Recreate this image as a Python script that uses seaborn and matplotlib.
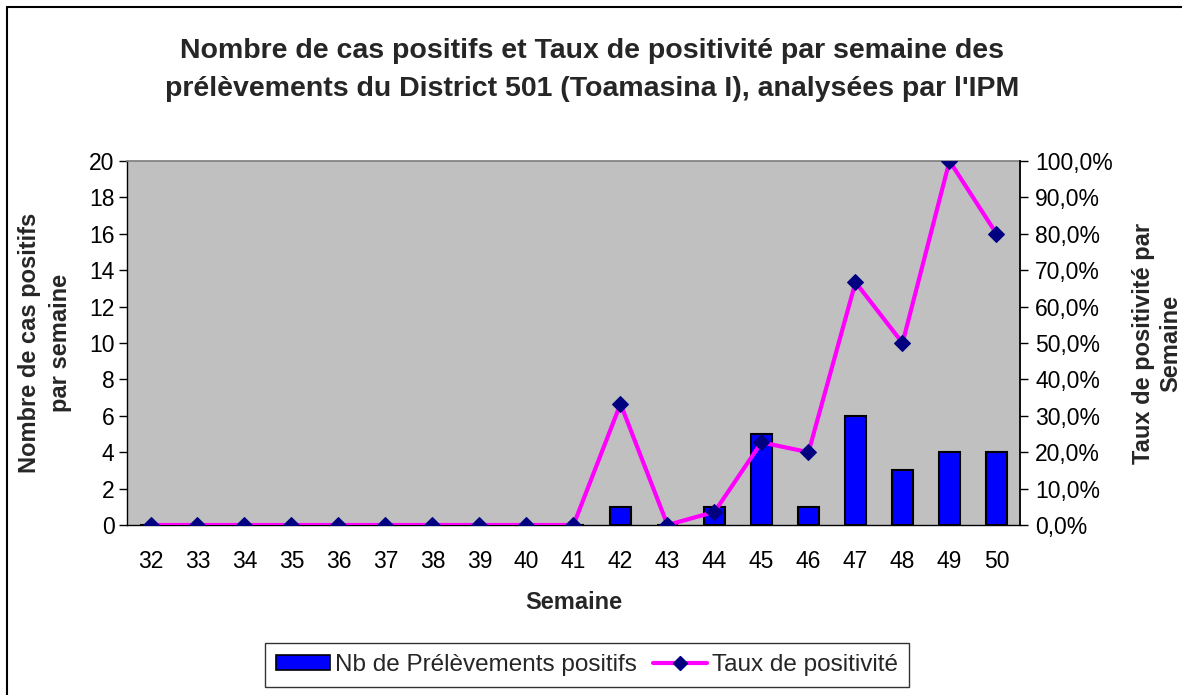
import numpy as np
import pandas as pd
import matplotlib
matplotlib.use("Agg")
import matplotlib.pyplot as plt
import seaborn as sns
from matplotlib.ticker import FuncFormatter, FixedLocator
from matplotlib.patches import Rectangle
from matplotlib.lines import Line2D

weeks = [32, 33, 34, 35, 36, 37, 38, 39, 40, 41, 42, 43, 44, 45, 46, 47, 48, 49, 50]
positives = [0, 0, 0, 0, 0, 0, 0, 0, 0, 0, 1, 0, 1, 5, 1, 6, 3, 4, 4]
rates = [0, 0, 0, 0, 0, 0, 0, 0, 0, 0, 33.3, 0, 3.6, 22.7, 20.0, 66.7, 50.0, 100.0, 80.0]

title = "Nombre de cas positifs et Taux de positivité par semaine des\nprélèvements du District 501 (Toamasina I), analysées par l'IPM"
xlabel = "Semaine"
ylabel_left = "Nombre de cas positifs\npar semaine"
ylabel_right = "Taux de positivité par\nSemaine"
bar_label = "Nb de Prélèvements positifs"
line_label = "Taux de positivité"

sns.set_theme(style="white")
plt.rcParams['font.family'] = ['Liberation Sans', 'DejaVu Sans']

TICK = 16.5
LAB = 17

df = pd.DataFrame({"week": [str(w) for w in weeks], "pos": positives,
                   "idx": np.arange(len(weeks)), "rate": rates})

fig = plt.figure(figsize=(11.82, 6.95), dpi=100)
ax = fig.add_axes([127/1182, 1-525/695, (1020-127)/1182, (525-161)/695])
ax.set_facecolor("#C0C0C0")

sns.barplot(data=df, x="week", y="pos", ax=ax, color="#0000FF", width=0.45,
            edgecolor="black", linewidth=1.5, saturation=1)
ax.set_xlim(-0.5, len(weeks) - 0.5)
ax.set_ylim(0, 20)
ax.set_yticks(range(0, 21, 2))
ax.xaxis.set_minor_locator(FixedLocator(np.arange(-0.5, len(weeks), 1.0)))
ax.tick_params(axis="x", which="major", length=0, labelsize=TICK, pad=18, colors="black")
ax.tick_params(axis="x", which="minor", length=7, width=1, direction="out", color="black")
ax.tick_params(axis="y", length=6, width=1, direction="out", labelsize=TICK, pad=3, left=True, colors="black")
ax.set_xlabel(xlabel, fontsize=LAB, fontweight="bold", labelpad=13)
ax.set_ylabel(ylabel_left, fontsize=LAB, fontweight="bold", labelpad=12, linespacing=1.45)
for s in ["top", "right"]:
    ax.spines[s].set_color("#808080")
for s in ["left", "bottom"]:
    ax.spines[s].set_color("black")
    ax.spines[s].set_linewidth(1)

ax2 = ax.twinx()
sns.lineplot(data=df, x="idx", y="rate", ax=ax2, color="#FF00FF", linewidth=3,
             marker="D", markersize=8.5, markerfacecolor="#000080", markeredgecolor="#000080")
ax2.set_ylim(0, 100)
ax2.set_xlim(-0.5, len(weeks) - 0.5)
ax2.set_yticks(range(0, 101, 10))
ax2.yaxis.set_major_formatter(FuncFormatter(lambda v, p: f"{v:.1f}%".replace(".", ",")))
ax2.tick_params(axis="y", length=6, width=1, direction="out", labelsize=TICK, pad=5, right=True, colors="black")
ax2.set_ylabel(ylabel_right, fontsize=LAB, fontweight="bold", labelpad=14)
ax2.spines["right"].set_color("black")
for s in ["top", "left", "bottom"]:
    ax2.spines[s].set_visible(False)
ax2.set_xlabel("")

fig.text(592/1182, 1 - 70/695, title, ha="center", va="center", fontsize=20.5, fontweight="bold",
         linespacing=1.55)

handles = [Rectangle((0, 0), 1, 1, facecolor="#0000FF", edgecolor="black", linewidth=1.2),
           Line2D([], [], color="#FF00FF", linewidth=3, marker="D", markersize=7,
                  markerfacecolor="#000080", markeredgecolor="#000080")]
leg = fig.legend(handles, [bar_label, line_label], loc="center", bbox_to_anchor=(587/1182, 1 - 665/695),
                 ncol=2, frameon=True, fontsize=17.5, fancybox=False, handlelength=2.2,
                 handleheight=0.55, columnspacing=0.7, handletextpad=0.2, borderpad=0.45,
                 borderaxespad=0)
leg.get_frame().set_edgecolor("black")
leg.get_frame().set_linewidth(1)

fig.add_artist(Line2D([7/1182, 1], [1 - 7/695, 1 - 7/695], transform=fig.transFigure,
                      color="black", linewidth=1.5))
fig.add_artist(Line2D([7/1182, 7/1182], [0, 1 - 7/695], transform=fig.transFigure,
                      color="black", linewidth=1.5))

fig.savefig("out.png", dpi=100, facecolor="white")
